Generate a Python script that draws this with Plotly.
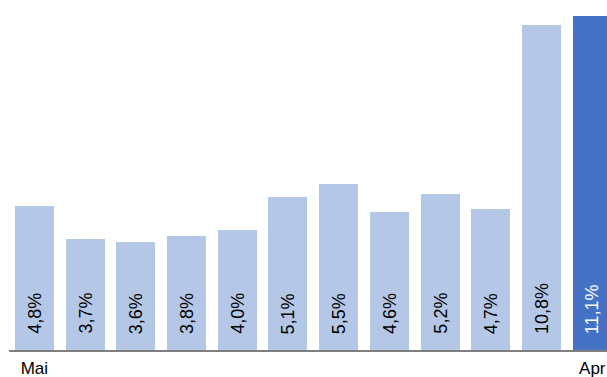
import plotly.graph_objects as go

# Monthly share, May through April
months = ["Mai", "Jun", "Jul", "Aug", "Sep", "Okt", "Nov", "Dez", "Jan", "Feb", "Mär", "Apr"]
shares = [4.8, 3.7, 3.6, 3.8, 4.0, 5.1, 5.5, 4.6, 5.2, 4.7, 10.8, 11.1]
shown_ticks = ["Mai", "Apr"]

LIGHT = "#B4C7E7"
DARK = "#4472C4"
bar_colors = [DARK if m == months[-1] else LIGHT for m in months]
text_colors = ["#ffffff" if m == months[-1] else "#000000" for m in months]

fig = go.Figure(
    go.Bar(
        x=months,
        y=shares,
        marker=dict(color=bar_colors, line=dict(width=0)),
        width=0.77,
        hoverinfo="skip",
    )
)

# Value labels, rotated and sitting near the base of each bar
for m, v, c in zip(months, shares, text_colors):
    fig.add_annotation(
        x=m, y=0, xref="x", yref="y",
        text=f"{v:.1f}%".replace(".", ","),
        textangle=-90,
        showarrow=False,
        yanchor="bottom", xanchor="center",
        yshift=14,
        font=dict(family="Liberation Sans, Arial, sans-serif", size=18, color=c),
    )

fig.update_layout(
    width=607, height=377,
    margin=dict(l=9, r=0, t=0, b=27),
    paper_bgcolor="white",
    plot_bgcolor="white",
    showlegend=False,
    bargap=0,
    font=dict(family="Liberation Sans, Arial, sans-serif", size=16, color="#000000"),
)
fig.update_xaxes(
    type="category",
    range=[-0.5, 11.29],
    tickmode="array",
    tickvals=shown_ticks,
    ticktext=shown_ticks,
    showline=True, linecolor="#7f7f7f", linewidth=2,
    showgrid=False, ticks="",
    tickfont=dict(size=17),
    ticklabelstandoff=2,
    fixedrange=True,
)
fig.update_yaxes(
    range=[0, 11.63],
    visible=False,
    showgrid=False,
    zeroline=False,
    fixedrange=True,
)

fig.write_html("out.html", config={"displayModeBar": False})
